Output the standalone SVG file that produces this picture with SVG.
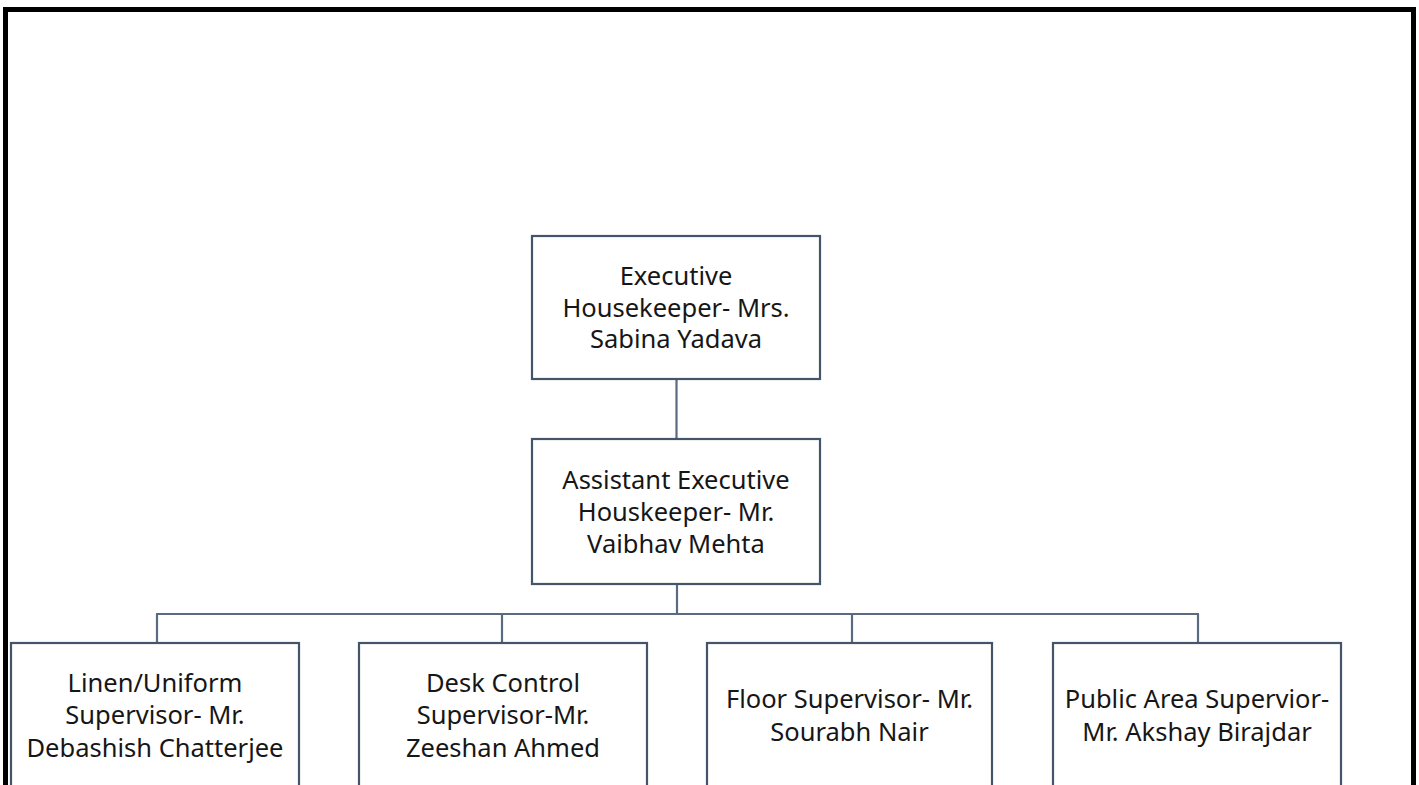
<svg xmlns="http://www.w3.org/2000/svg" width="1419" height="785" viewBox="0 0 1419 785">
  <style>
    .frame { fill: none; stroke: #000; stroke-width: 5; }
    .box { fill: #fff; stroke: #44546a; stroke-width: 2.2; }
    .link { fill: none; stroke: #5a6a80; stroke-width: 2.2; }
    .label { font-family: "Noto Sans", "Liberation Sans", sans-serif; font-size: 25.5px; fill: #161616; text-anchor: middle; dominant-baseline: central; font-variant-ligatures: none; }
  </style>
  <rect width="1419" height="785" fill="#fff"/>
  <!-- outer page frame (runs off the bottom edge) -->
  <rect class="frame" x="5.5" y="9.5" width="1408" height="800"/>

  <g id="connectors">
    <line class="link" x1="676.5" y1="379" x2="676.5" y2="439"/>
    <line class="link" x1="677" y1="584" x2="677" y2="614"/>
    <line class="link" x1="156" y1="614" x2="1199" y2="614"/>
    <line class="link" x1="157" y1="614" x2="157" y2="643"/>
    <line class="link" x1="502" y1="614" x2="502" y2="643"/>
    <line class="link" x1="852" y1="614" x2="852" y2="643"/>
    <line class="link" x1="1198" y1="614" x2="1198" y2="643"/>
  </g>

  <g id="executive-housekeeper">
    <rect class="box" x="532" y="236" width="288" height="143"/>
    <text class="label" x="676" y="275">Executive</text>
    <text class="label" x="676" y="307">Housekeeper- Mrs.</text>
    <text class="label" x="676" y="338">Sabina Yadava</text>
  </g>

  <g id="assistant-executive-housekeeper">
    <rect class="box" x="532" y="439" width="288" height="145"/>
    <text class="label" x="676" y="479">Assistant Executive</text>
    <text class="label" x="676" y="511">Houskeeper- Mr.</text>
    <text class="label" x="676" y="543">Vaibhav Mehta</text>
  </g>

  <g id="linen-uniform-supervisor">
    <rect class="box" x="11" y="643" width="288" height="160"/>
    <text class="label" x="155" y="682">Linen/Uniform</text>
    <text class="label" x="155" y="714">Supervisor- Mr.</text>
    <text class="label" x="155" y="747">Debashish Chatterjee</text>
  </g>

  <g id="desk-control-supervisor">
    <rect class="box" x="359" y="643" width="288" height="160"/>
    <text class="label" x="503" y="682">Desk Control</text>
    <text class="label" x="503" y="714">Supervisor-Mr.</text>
    <text class="label" x="503" y="747">Zeeshan Ahmed</text>
  </g>

  <g id="floor-supervisor">
    <rect class="box" x="707" y="643" width="285" height="160"/>
    <text class="label" x="849.5" y="698">Floor Supervisor- Mr.</text>
    <text class="label" x="849.5" y="731">Sourabh Nair</text>
  </g>

  <g id="public-area-supervisor">
    <rect class="box" x="1053" y="643" width="288" height="160"/>
    <text class="label" x="1197" y="698">Public Area Supervior-</text>
    <text class="label" x="1197" y="731">Mr. Akshay Birajdar</text>
  </g>
</svg>
